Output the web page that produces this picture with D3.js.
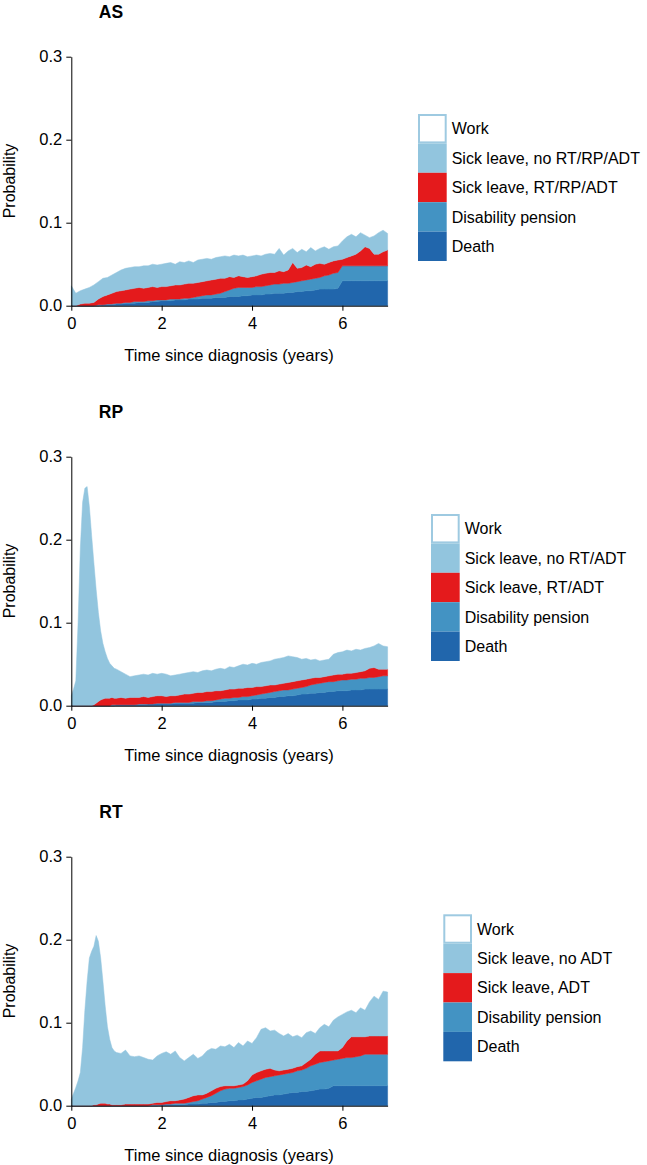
<!DOCTYPE html>
<html><head><meta charset="utf-8">
<script src="https://cdn.jsdelivr.net/npm/d3@7"></script>
<style>body{margin:0;background:#fff}svg text{font-family:"Liberation Sans",Arial,Helvetica,sans-serif;fill:#000}</style>
</head><body><svg id="c" width="647" height="1165"></svg>
<script>
// ---------- time grids (years since diagnosis) ----------
const asTime = [0,0.1,0.2,0.3,0.4,0.5,0.6,0.7,0.8,0.9,
 1.0,1.1,1.2,1.3,1.4,1.5,1.6,1.7,1.8,1.9,
 2.0,2.1,2.2,2.3,2.4,2.5,2.6,2.7,2.8,2.9,
 3.0,3.1,3.2,3.3,3.4,3.5,3.6,3.7,3.8,3.9,
 4.0,4.1,4.2,4.3,4.4,4.5,4.6,4.7,4.8,4.9,
 5.0,5.1,5.2,5.3,5.4,5.5,5.6,5.7,5.8,5.9,
 6.0,6.1,6.2,6.3,6.4,6.5,6.6,6.7,6.8,6.9,
 7.0];
const fineTime = [0,0.05,0.1,0.15,0.2,0.25,0.3,0.35,0.4,0.45,
 0.5,0.55,0.6,0.65,0.7,0.75,0.8,0.85,0.9,0.95,
 1.0,1.1,1.2,1.3,1.4,1.5,1.6,1.7,1.8,1.9,
 2.0,2.1,2.2,2.3,2.4,2.5,2.6,2.7,2.8,2.9,
 3.0,3.1,3.2,3.3,3.4,3.5,3.6,3.7,3.8,3.9,
 4.0,4.1,4.2,4.3,4.4,4.5,4.6,4.7,4.8,4.9,
 5.0,5.1,5.2,5.3,5.4,5.5,5.6,5.7,5.8,5.9,
 6.0,6.1,6.2,6.3,6.4,6.5,6.6,6.7,6.8,6.9,
 7.0];

// ---------- AS: state probabilities ----------
const asDeath = [0,0,0,0,0,0,0,0.001,0.001,0.001,
 0.002,0.002,0.003,0.003,0.003,0.004,0.004,0.004,0.005,0.005,
 0.006,0.006,0.006,0.007,0.007,0.007,0.008,0.008,0.008,0.009,
 0.009,0.009,0.010,0.010,0.010,0.011,0.011,0.011,0.012,0.012,
 0.013,0.013,0.013,0.014,0.014,0.015,0.015,0.015,0.016,0.016,
 0.017,0.017,0.018,0.018,0.019,0.020,0.020,0.020,0.020,0.021,
 0.030,0.030,0.030,0.030,0.030,0.030,0.030,0.030,0.030,0.030,
 0.030];
const asDisability = [0,0,0,0,0,0,0.001,0,0.001,0.001,
 0.001,0.001,0.001,0.001,0.002,0.001,0.001,0.002,0.001,0.002,
 0.001,0.001,0.002,0.001,0.001,0.002,0.001,0.002,0.003,0.003,
 0.004,0.004,0.004,0.005,0.007,0.008,0.010,0.011,0.010,0.010,
 0.009,0.010,0.010,0.010,0.011,0.011,0.011,0.012,0.011,0.012,
 0.012,0.013,0.013,0.014,0.014,0.014,0.016,0.017,0.019,0.019,
 0.018,0.018,0.018,0.018,0.018,0.018,0.018,0.018,0.018,0.018,
 0.018];
const asSickTreat = [0,0,0.002,0.003,0.003,0.004,0.007,0.010,0.011,0.013,
 0.014,0.015,0.015,0.016,0.016,0.017,0.016,0.016,0.017,0.015,
 0.016,0.016,0.016,0.017,0.017,0.017,0.018,0.017,0.017,0.017,
 0.017,0.018,0.018,0.018,0.016,0.016,0.013,0.014,0.013,0.012,
 0.013,0.013,0.015,0.015,0.015,0.014,0.016,0.014,0.016,0.024,
 0.016,0.016,0.018,0.015,0.017,0.017,0.014,0.015,0.015,0.015,
 0.008,0.010,0.012,0.014,0.018,0.023,0.021,0.014,0.014,0.017,
 0.019];
const asSickNo = [0.024,0.015,0.016,0.017,0.019,0.021,0.021,0.022,0.021,0.022,
 0.023,0.025,0.026,0.026,0.026,0.025,0.027,0.026,0.027,0.027,
 0.027,0.028,0.028,0.025,0.028,0.026,0.027,0.025,0.027,0.027,
 0.027,0.025,0.026,0.026,0.027,0.024,0.027,0.024,0.026,0.025,
 0.025,0.025,0.022,0.023,0.023,0.022,0.027,0.020,0.023,0.017,
 0.019,0.022,0.016,0.023,0.016,0.018,0.021,0.016,0.017,0.017,
 0.022,0.025,0.026,0.021,0.022,0.014,0.013,0.022,0.026,0.026,
 0.020];

// ---------- RP: state probabilities ----------
const rpDeath = [0,0,0,0,0,0,0,0,0,0,
 0,0,0,0,0,0,0,0,0,0,
 0.001,0.001,0.001,0.001,0.001,0.001,0.001,0.002,0.002,0.002,
 0.002,0.002,0.002,0.003,0.003,0.003,0.003,0.003,0.004,0.004,
 0.004,0.004,0.005,0.005,0.005,0.006,0.006,0.007,0.007,0.007,
 0.008,0.008,0.009,0.009,0.010,0.010,0.011,0.011,0.012,0.012,
 0.013,0.014,0.014,0.015,0.015,0.016,0.016,0.017,0.017,0.018,
 0.018,0.018,0.019,0.019,0.019,0.020,0.020,0.020,0.020,0.020,
 0.020];
const rpDisability = [0,0,0,0,0,0,0,0,0,0,
 0,0,0,0,0,0,0,0,0.001,0.001,
 0,0,0,0,0,0.001,0.001,0,0,0.001,
 0.001,0.001,0.001,0.001,0.001,0.001,0.001,0.002,0.001,0.001,
 0.002,0.002,0.002,0.003,0.004,0.003,0.004,0.003,0.004,0.004,
 0.004,0.005,0.005,0.006,0.006,0.007,0.007,0.008,0.007,0.008,
 0.008,0.008,0.009,0.010,0.011,0.011,0.012,0.012,0.012,0.012,
 0.013,0.013,0.013,0.013,0.014,0.013,0.014,0.014,0.015,0.016,
 0.016];
const rpSickTreat = [0,0,0,0,0,0,0,0,0,0,
 0.001,0.003,0.005,0.007,0.008,0.009,0.009,0.009,0.009,0.008,
 0.008,0.009,0.008,0.009,0.009,0.008,0.009,0.008,0.009,0.009,
 0.009,0.008,0.009,0.008,0.009,0.010,0.010,0.010,0.011,0.011,
 0.011,0.011,0.011,0.010,0.010,0.011,0.010,0.011,0.010,0.011,
 0.010,0.010,0.009,0.009,0.009,0.008,0.008,0.008,0.009,0.009,
 0.009,0.009,0.009,0.008,0.008,0.007,0.007,0.007,0.008,0.008,
 0.007,0.008,0.007,0.008,0.008,0.009,0.011,0.012,0.009,0.008,
 0.008];
const rpSickNo = [0.012,0.020,0.030,0.100,0.190,0.245,0.262,0.264,0.240,0.205,
 0.171,0.137,0.107,0.083,0.067,0.056,0.048,0.042,0.038,0.036,
 0.035,0.031,0.029,0.025,0.026,0.027,0.027,0.027,0.028,0.026,
 0.027,0.027,0.024,0.025,0.025,0.025,0.026,0.026,0.024,0.026,
 0.026,0.025,0.026,0.027,0.025,0.027,0.026,0.027,0.029,0.027,
 0.029,0.027,0.029,0.029,0.029,0.031,0.031,0.031,0.032,0.030,
 0.028,0.025,0.025,0.022,0.022,0.020,0.020,0.020,0.025,0.026,
 0.027,0.028,0.027,0.028,0.026,0.027,0.025,0.026,0.031,0.028,
 0.027];

// ---------- RT: state probabilities ----------
const rtDeath = [0,0,0,0,0,0,0,0,0,0,
 0,0,0,0,0,0,0,0,0,0,
 0,0,0,0,0,0,0,0,0,0,
 0.001,0.001,0.001,0.001,0.001,0.001,0.002,0.002,0.002,0.003,
 0.003,0.004,0.004,0.005,0.005,0.006,0.006,0.007,0.007,0.008,
 0.009,0.010,0.010,0.011,0.012,0.013,0.013,0.014,0.015,0.016,
 0.016,0.017,0.017,0.018,0.019,0.020,0.020,0.021,0.024,0.024,
 0.024,0.024,0.024,0.024,0.024,0.024,0.024,0.024,0.024,0.024,
 0.024];
const rtDisability = [0,0,0,0,0,0,0,0,0,0,
 0,0,0,0,0,0,0,0,0,0,
 0,0,0,0,0,0,0,0,0.001,0.001,
 0,0.001,0.001,0.002,0.002,0.002,0.002,0.003,0.004,0.005,
 0.007,0.008,0.011,0.013,0.015,0.015,0.015,0.015,0.016,0.017,
 0.019,0.020,0.022,0.023,0.023,0.023,0.024,0.024,0.024,0.024,
 0.026,0.026,0.028,0.030,0.031,0.032,0.033,0.033,0.031,0.032,
 0.033,0.034,0.034,0.035,0.036,0.038,0.038,0.038,0.038,0.038,
 0.038];
const rtSickTreat = [0,0,0,0,0,0,0,0,0,0,
 0.001,0.001,0.002,0.003,0.003,0.003,0.002,0.002,0.001,0.001,
 0.001,0.001,0.002,0.002,0.002,0.002,0.002,0.002,0.002,0.003,
 0.003,0.003,0.004,0.003,0.004,0.005,0.006,0.007,0.007,0.005,
 0.005,0.006,0.006,0.005,0.004,0.003,0.003,0.003,0.003,0.005,
 0.009,0.010,0.010,0.010,0.010,0.007,0.005,0.005,0.005,0.005,
 0.005,0.005,0.007,0.008,0.012,0.014,0.013,0.012,0.011,0.010,
 0.013,0.020,0.025,0.024,0.023,0.021,0.022,0.022,0.022,0.022,
 0.022];
const rtSickNo = [0.008,0.015,0.022,0.030,0.040,0.070,0.115,0.150,0.178,0.186,
 0.191,0.204,0.196,0.175,0.147,0.117,0.093,0.078,0.069,0.065,
 0.063,0.062,0.065,0.058,0.057,0.058,0.056,0.054,0.052,0.056,
 0.059,0.060,0.056,0.060,0.051,0.046,0.048,0.050,0.044,0.047,
 0.051,0.051,0.047,0.049,0.047,0.050,0.046,0.051,0.046,0.048,
 0.038,0.042,0.050,0.050,0.045,0.048,0.045,0.041,0.043,0.038,
 0.038,0.034,0.036,0.034,0.025,0.028,0.032,0.029,0.037,0.041,
 0.040,0.035,0.032,0.029,0.035,0.032,0.041,0.048,0.044,0.054,
 0.053];

// ---------- labels ----------
const panelTitles = ["AS","RP","RT"];
const asLegend = ["Work","Sick leave, no RT/RP/ADT","Sick leave, RT/RP/ADT","Disability pension","Death"];
const rpLegend = ["Work","Sick leave, no RT/ADT","Sick leave, RT/ADT","Disability pension","Death"];
const rtLegend = ["Work","Sick leave, no ADT","Sick leave, ADT","Disability pension","Death"];
const yTicks = [0,0.1,0.2,0.3];
const xTicks = [0,2,4,6];
const xTitle = "Time since diagnosis (years)";
const yTitle = "Probability";

// ---------- styling ----------
const stateKeys = ["death","disability","sickTreat","sickNo"];
const stateColor = {death:"#2166ac", disability:"#4393c3", sickTreat:"#e41a1c", sickNo:"#92c5de"};
const legendColors = ["#ffffff","#92c5de","#e41a1c","#4393c3","#2166ac"];

const panels = [
  {title:panelTitles[0], time:asTime, death:asDeath, disability:asDisability, sickTreat:asSickTreat, sickNo:asSickNo, legend:asLegend, oy:0, lx:418},
  {title:panelTitles[1], time:fineTime, death:rpDeath, disability:rpDisability, sickTreat:rpSickTreat, sickNo:rpSickNo, legend:rpLegend, oy:400, lx:431},
  {title:panelTitles[2], time:fineTime, death:rtDeath, disability:rtDisability, sickTreat:rtSickTreat, sickNo:rtSickNo, legend:rtLegend, oy:800, lx:443.3}
];
const legendTop = [114, 514, 914.3];

const svg = d3.select("#c");
const x = d3.scaleLinear().domain([0,7]).range([71.3, 387.6]);

panels.forEach((p, pi) => {
  const oy = p.oy;
  const y = d3.scaleLinear().domain([0,0.3]).range([305.7+oy, 56.7+oy]);
  const g = svg.append("g");

  const rows = p.time.map((t,i) => ({t, death:p.death[i], disability:p.disability[i], sickTreat:p.sickTreat[i], sickNo:p.sickNo[i]}));
  const series = d3.stack().keys(stateKeys)(rows);
  const area = d3.area().x(d => x(d.data.t)).y0(d => y(d[0])).y1(d => y(d[1]));

  g.selectAll("path.layer").data(series).join("path")
    .attr("class","layer")
    .attr("d", area)
    .attr("fill", d => stateColor[d.key])
    .attr("stroke", d => stateColor[d.key])
    .attr("stroke-width", 0.5)
    .attr("stroke-linejoin","round");

  // axes
  const ya = g.append("g").attr("transform", `translate(${x(0)},0)`)
    .call(d3.axisLeft(y).tickValues(yTicks).tickFormat(d3.format(".1f")).tickSize(5).tickSizeOuter(0).tickPadding(4));
  const xa = g.append("g").attr("transform", `translate(0,${y(0)})`)
    .call(d3.axisBottom(x).tickValues(xTicks).tickFormat(d3.format("d")).tickSize(5).tickSizeOuter(0).tickPadding(7));
  [ya, xa].forEach(a => {
    a.selectAll("text").style("font-size","16.5px").attr("fill","#000");
    a.selectAll("line").attr("stroke","#000");
    a.select(".domain").attr("stroke","#000");
  });

  // titles
  g.append("text").attr("x", 111).attr("y", 18+oy).attr("text-anchor","middle")
    .style("font-size","17.5px").style("font-weight","bold").text(p.title);
  g.append("text").attr("transform", `translate(15,${181+oy}) rotate(-90)`).attr("text-anchor","middle")
    .style("font-size","16px").text(yTitle);
  g.append("text").attr("x", 229).attr("y", 361+oy).attr("text-anchor","middle")
    .style("font-size","16.5px").text(xTitle);

  // legend
  const rowH = 29.4, boxW = 28.7, ly = legendTop[pi];
  p.legend.forEach((lab, i) => {
    const yy = ly + i*rowH;
    if (i === 0) {
      g.append("rect").attr("x", p.lx+1).attr("y", yy+1).attr("width", boxW-2).attr("height", rowH-2)
        .attr("fill","#fff").attr("stroke","#9ecae1").attr("stroke-width",2);
    } else {
      g.append("rect").attr("x", p.lx).attr("y", yy).attr("width", boxW).attr("height", rowH)
        .attr("fill", legendColors[i]);
    }
    g.append("text").attr("x", p.lx+boxW+5).attr("y", yy+rowH/2).attr("dy","0.35em")
      .style("font-size","16px").text(lab);
  });
});
</script></body></html>
